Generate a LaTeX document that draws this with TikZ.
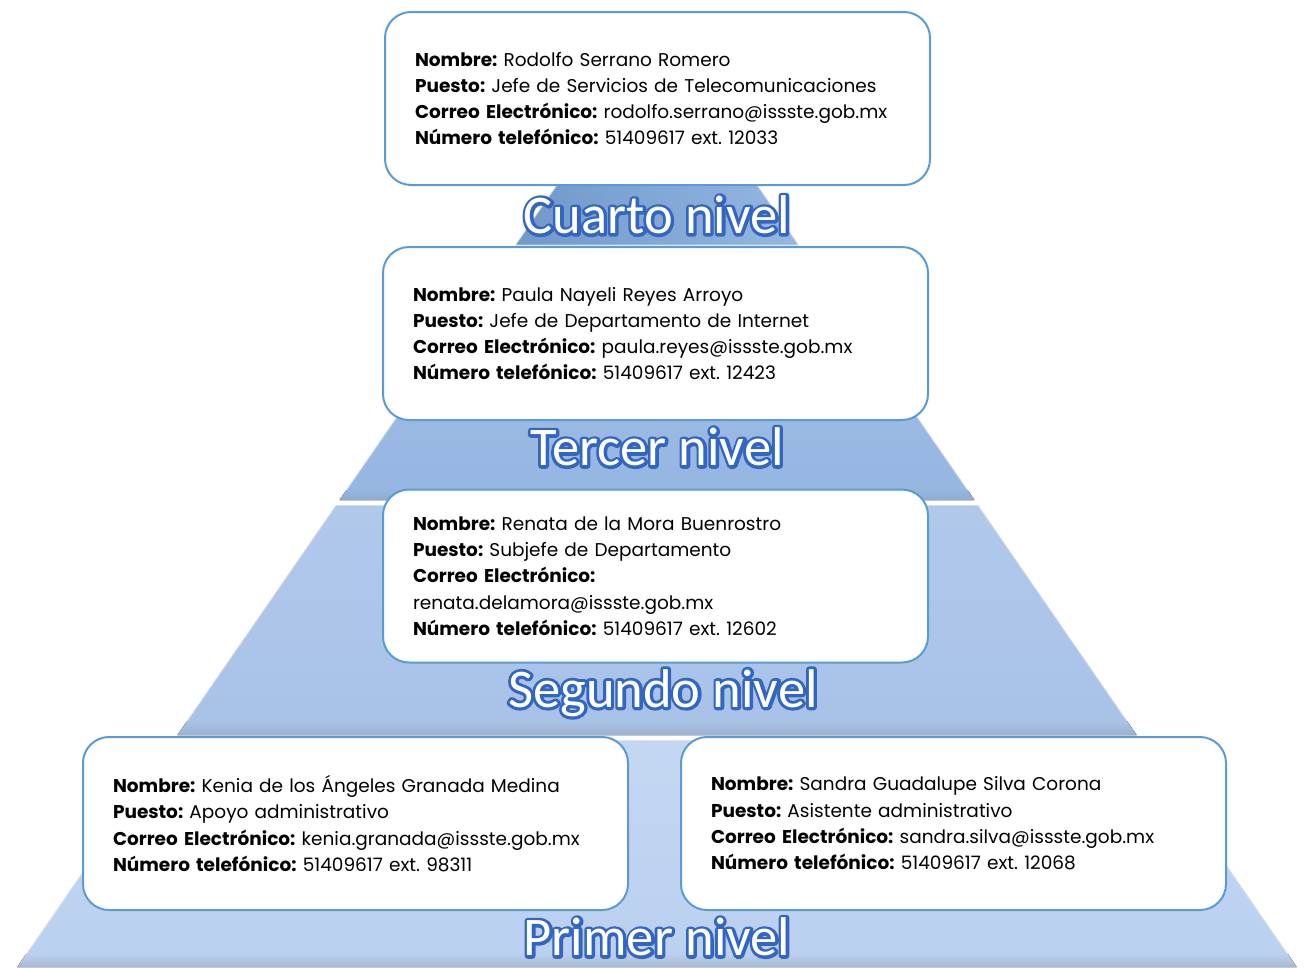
\documentclass[tikz,border=0pt]{standalone}
\usepackage{fontspec}
\setmainfont{Poppins}
\newfontfamily\nivelfont{Carlito}
\frenchspacing

\definecolor{bordeazul}{HTML}{5B9BD5}
\definecolor{capacuatro}{HTML}{7AA5DB}
\definecolor{capatres}{HTML}{95B6E2}
\definecolor{capados}{HTML}{A8C2E8}
\definecolor{capauno}{HTML}{BAD0F0}

% texto blanco con contorno azul
\newcommand{\trazo}[1]{{\color{white}\special{pdf:literal direct 1 Tr 6 w 1 j 0.2 0.4 0.76 RG}#1\special{pdf:literal direct 0 Tr 1 w}}}
\newcommand{\rotulo}[1]{\rlap{\trazo{#1}}#1}

\tikzset{
  datos/.style={draw=bordeazul, line width=2pt, fill=white, rounded corners=26pt,
    minimum width=545pt, minimum height=173pt, text width=485pt, inner xsep=30pt,
    align=left, font=\fontsize{18.5}{26.3}\selectfont},
  nivel/.style={font=\nivelfont\fontsize{54.5}{54}\selectfont, text=white, inner sep=0pt},
  capa/.style={draw=white, draw opacity=0.6, line width=1pt},
}

\begin{document}
\begin{tikzpicture}[x=1pt, y=-1pt]
  \useasboundingbox (0,0) rectangle (1304,967);

  % piramide
  \fill[capa, left color=capacuatro!92!black, right color=capacuatro!80!white]
    (657,40) -- (798.5,245) -- (515.5,245) -- cycle;
  \fill[capa, top color=capatres!85!white, bottom color=capatres]
    (512.1,250) -- (801.9,250) -- (974.4,500) -- (339.6,500) -- cycle;
  \fill[top color=capatres, bottom color=capatres!80!gray]
    (346.5,490) -- (967.5,490) -- (974.4,500) -- (339.6,500) -- cycle;
  \fill[capa, top color=capados!90!white, bottom color=capados]
    (336.2,505) -- (977.9,505) -- (1136.6,735) -- (177.5,735) -- cycle;
  \fill[top color=capados, bottom color=capados!75!gray]
    (187.2,721) -- (1126.9,721) -- (1136.6,735) -- (177.5,735) -- cycle;
  \fill[capa, top color=capauno!85!white, bottom color=capauno]
    (174,740) -- (1140,740) -- (1296.6,967) -- (17.4,967) -- cycle;
  \fill[top color=capauno, bottom color=capauno!70!gray]
    (26,954) -- (1288,954) -- (1296.6,967) -- (17.4,967) -- cycle;

  % cuadros
  \node[datos] (cuarto) at (657.5,98.5) {
    \textbf{Nombre:} Rodolfo Serrano Romero\\
    \textbf{Puesto:} Jefe de Servicios de Telecomunicaciones\\
    \textbf{Correo Electrónico:} rodolfo.serrano@issste.gob.mx\\
    \textbf{Número telefónico:} 51409617 ext. 12033};
  \node[datos] (tercer) at (655.5,333.5) {
    \textbf{Nombre:} Paula Nayeli Reyes Arroyo\\
    \textbf{Puesto:} Jefe de Departamento de Internet\\
    \textbf{Correo Electrónico:} paula.reyes@issste.gob.mx\\
    \textbf{Número telefónico:} 51409617 ext. 12423};
  \node[datos] (segundo) at (655.5,576) {
    \textbf{Nombre:} Renata de la Mora Buenrostro\\
    \textbf{Puesto:} Subjefe de Departamento\\
    \textbf{Correo Electrónico:}\\
    renata.delamora@issste.gob.mx\\
    \textbf{Número telefónico:} 51409617 ext. 12602};
  \node[datos] (primerA) at (355.5,823.5) {
    \textbf{Nombre:} Kenia de los Ángeles Granada Medina\\
    \textbf{Puesto:} Apoyo administrativo\\
    \textbf{Correo Electrónico:} kenia.granada@issste.gob.mx\\
    \textbf{Número telefónico:} 51409617 ext. 98311};
  \node[datos] (primerB) at (953.5,823.5) {
    \textbf{Nombre:} Sandra Guadalupe Silva Corona\\
    \textbf{Puesto:} Asistente administrativo\\
    \textbf{Correo Electrónico:} sandra.silva@issste.gob.mx\\
    \textbf{Número telefónico:} 51409617 ext. 12068};

  % niveles
  \node[nivel] (n4) at (657,215) {\rotulo{Cuarto nivel}};
  \node[nivel] (n3) at (657,447) {\rotulo{Tercer nivel}};
  \node[nivel] (n2) at (663,693) {\rotulo{Segundo nivel}};
  \node[nivel] (n1) at (657,937) {\rotulo{Primer nivel}};
\end{tikzpicture}
\end{document}
